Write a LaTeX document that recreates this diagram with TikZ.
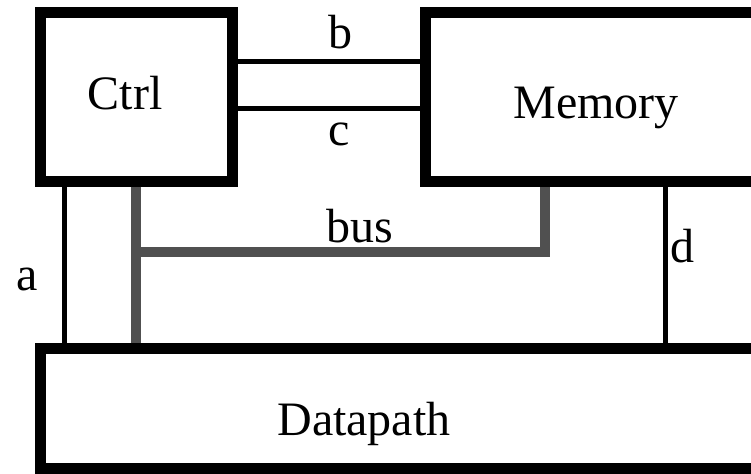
\documentclass[tikz,border=0pt]{standalone}
\usepackage{fontspec}
\setmainfont{Liberation Serif}
\usetikzlibrary{positioning,calc}

\begin{document}
\begin{tikzpicture}[x=0.5pt, y=-0.5pt,
       blk/.style = {rectangle, draw, line width=5.5pt, inner sep=0pt},
      wire/.style = {line width=2.5pt},
       bus/.style = {line width=5pt, draw=buscol},
       txt/.style = {anchor=base, inner sep=0pt,
                     font=\fontsize{24}{28}\selectfont},
                    ]
    \definecolor{buscol}{HTML}{505050}
    \clip (0,0) rectangle (751,473);
    %% boxes
    \node[blk, minimum width=96pt, minimum height=84.5pt]  (ctrl) at (136,96.5) {};
    \node[blk, minimum width=171pt, minimum height=84.5pt] (mem)  at (596,96.5) {};
    \node[blk, minimum width=380pt, minimum height=60pt]   (dp)   at (420,408)  {};
    \node[txt] (ctrltxt) at (125,109) {Ctrl};
    \node[txt] (memtxt)  at (596,118) {Memory};
    \node[txt] (dptxt)   at (364,435) {Datapath};
    %% wires
    \draw[wire] ([yshift=17.75pt]ctrl.east) -- ([yshift=17.75pt]ctrl.east -| mem.west);
    \draw[wire] ([yshift=-5.75pt]ctrl.east) -- ([yshift=-5.75pt]ctrl.east -| mem.west);
    \draw[wire] ([xshift=15pt]ctrl.south west) -- ([xshift=15pt]ctrl.south west |- dp.north);
    \draw[wire] ([xshift=34.5pt]mem.south) -- ([xshift=34.5pt]mem.south |- dp.north);
    %% bus
    \draw[bus] (ctrl.south) -- (ctrl.south |- dp.north);
    \draw[bus] ([yshift=-32.75pt]ctrl.south) -| ([xshift=-25.5pt]mem.south);
    %% labels
    \node[txt] (lb)   at (340,48)  {b};
    \node[txt] (lc)   at (339,145) {c};
    \node[txt] (lbus) at (360,242) {bus};
    \node[txt] (la)   at (27,290)  {a};
    \node[txt] (ld)   at (682,262) {d};
\end{tikzpicture}
\end{document}
